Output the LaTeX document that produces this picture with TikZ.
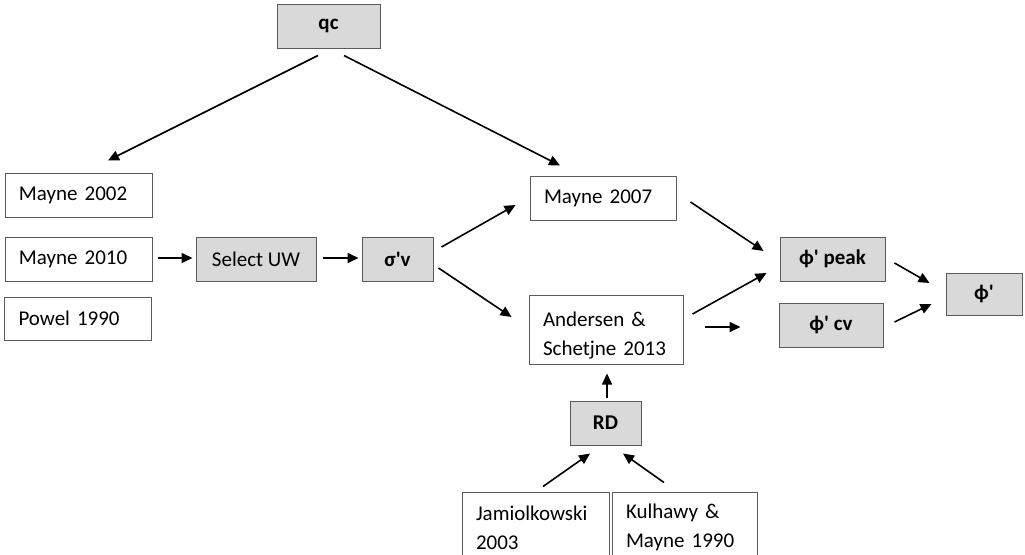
\documentclass[tikz,border=0pt]{standalone}
\usepackage{fontspec}
\setmainfont{Carlito}
\usetikzlibrary{arrows.meta}
\definecolor{boxgray}{HTML}{D9D9D9}
\definecolor{edgegray}{HTML}{5A5A5A}
\newcommand{\apo}{\textquotesingle}
\tikzset{
  basebox/.style={draw=edgegray, line width=1pt, inner ysep=0pt},
  whitebox/.style={basebox, fill=white, align=left, inner xsep=14pt, font=\fontsize{21}{29}\selectfont},
  graybox/.style={basebox, fill=boxgray, align=center, inner xsep=0pt, font=\fontsize{21}{29}\selectfont\bfseries},
  grayreg/.style={basebox, fill=boxgray, align=center, inner xsep=0pt, font=\fontsize{21}{29}\selectfont},
  arr/.style={-{Triangle[length=11pt,width=10pt]}, line width=1.6pt, black},
}
\begin{document}
\begin{tikzpicture}[x=1pt, y=-1pt]
\useasboundingbox (0,0) rectangle (1025,554);
\fill[white] (0,0) rectangle (1025,554);
\clip (0,0) rectangle (1025,554);

% nodes
\node[graybox, minimum width=103pt, minimum height=44pt] (qc) at (328.5,26) {qc};
\node[whitebox, text width=119pt, minimum height=44pt] (m2002) at (78.5,195) {Mayne 2002};
\node[whitebox, text width=119pt, minimum height=44pt] (m2010) at (78.5,259) {Mayne 2010};
\node[whitebox, text width=119pt, minimum height=43pt] (p1990) at (78,318.5) {Powel 1990};
\node[grayreg, minimum width=120pt, minimum height=44pt] (suw) at (256,259) {Select UW};
\node[graybox, minimum width=71pt, minimum height=44pt] (sv) at (397.5,259) {σ\apo v};
\node[whitebox, text width=118pt, minimum height=44pt] (m2007) at (603,198) {Mayne 2007};
\node[whitebox, text width=126pt, minimum height=69pt] (and) at (606,329.5) {\rule{0pt}{26pt}Andersen \&\\Schetjne 2013};
\node[graybox, minimum width=71pt, minimum height=44pt] (rd) at (605.5,423) {RD};
\node[whitebox, text width=119pt, minimum height=69pt] (jam) at (535.5,526.5) {\rule{0pt}{17pt}Jamiolkowski\\2003};
\node[whitebox, text width=117pt, minimum height=69pt] (kul) at (684.5,526.5) {\rule{0pt}{17pt}Kulhawy \&\\Mayne 1990};
\node[graybox, minimum width=105pt, minimum height=44pt] (peak) at (832.5,259) {ϕ\apo{} peak};
\node[graybox, minimum width=104pt, minimum height=44pt] (cv) at (831,325) {ϕ\apo{} cv};
\node[graybox, minimum width=76pt, minimum height=42pt] (phi) at (984,294) {ϕ\apo};

% connectors
\draw[arr] ([shift={(-10.5,7)}]qc.south) -- ([shift={(29.5,-12)}]m2002.north);
\draw[arr] ([shift={(15.5,7)}]qc.south) -- ([shift={(-43,-10)}]m2007.north);
\draw[arr] ([shift={(5,-1)}]m2010.east) -- ([shift={(-3,-1)}]suw.west);
\draw[arr] ([shift={(6,-1)}]suw.east) -- ([shift={(-3,-1)}]sv.west);
\draw[arr] ([shift={(8,-12)}]sv.east) -- ([shift={(-14,7)}]m2007.west);
\draw[arr] ([shift={(5,9)}]sv.east) -- ([shift={(-17,-12.5)}]and.west);
\draw[arr] ([shift={(14,4)}]m2007.east) -- ([shift={(-16,-8)}]peak.west);
\draw[arr] ([shift={(9,-15.5)}]and.east) -- ([shift={(-13,14)}]peak.west);
\draw[arr] ([shift={(21,-2.5)}]and.east) -- ([shift={(-38,2)}]cv.west);
\draw[arr] ([shift={(9,4)}]peak.east) -- ([shift={(-16,-11)}]phi.west);
\draw[arr] ([shift={(11,-3)}]cv.east) -- ([shift={(-14,10)}]phi.west);
\draw[arr] ([shift={(1.5,-3)}]rd.north) -- ([shift={(1,9)}]and.south);
\draw[arr] ([shift={(7.5,-5)}]jam.north) -- ([shift={(-15.5,8)}]rd.south);
\draw[arr] ([shift={(-20.5,-9)}]kul.north) -- ([shift={(17.5,8)}]rd.south);
\end{tikzpicture}
\end{document}
